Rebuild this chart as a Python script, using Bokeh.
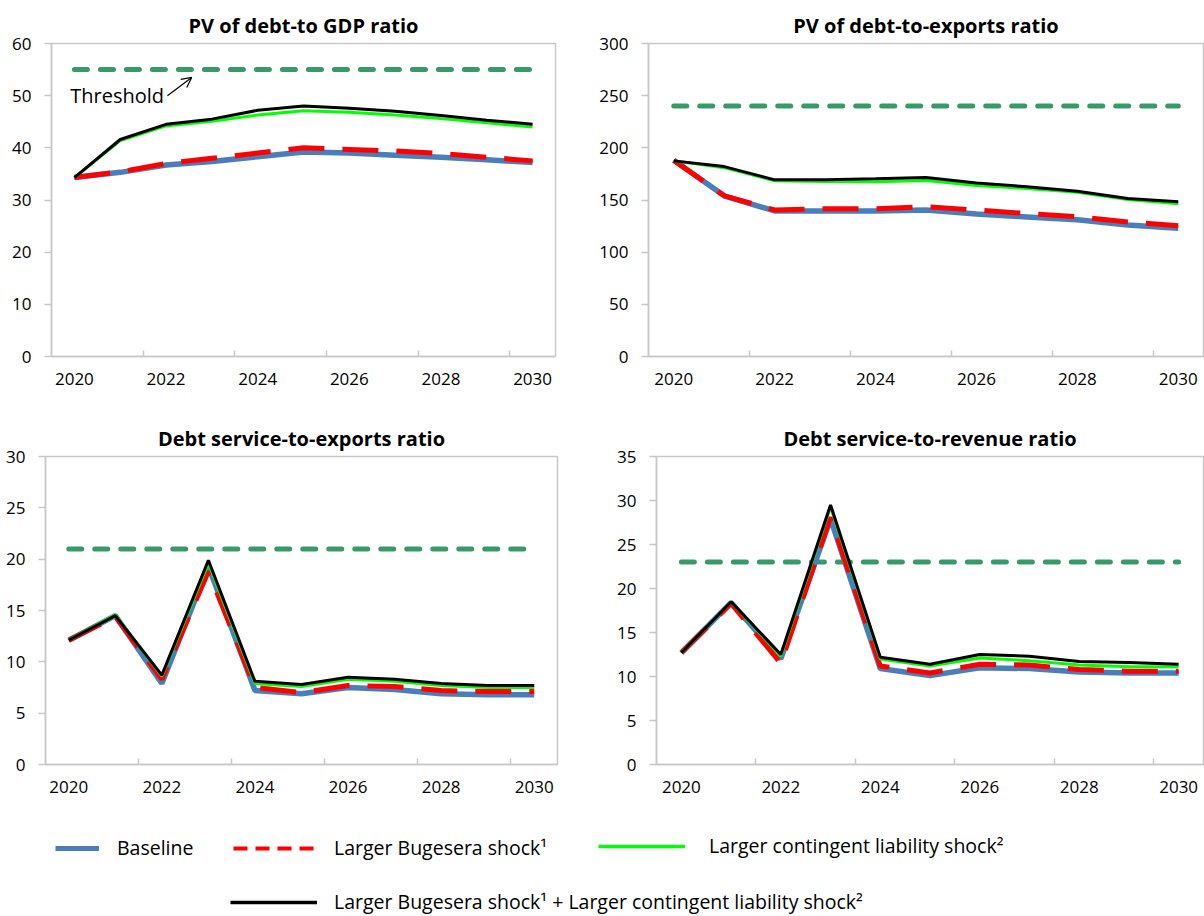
from bokeh.plotting import figure
from bokeh.models import Range1d, FixedTicker, Arrow, OpenHead, Label, Legend, LegendItem
from bokeh.layouts import column, row
from bokeh.embed import file_html
from bokeh.resources import INLINE

# ---------------- data ----------------
years = [2020, 2021, 2022, 2023, 2024, 2025, 2026, 2027, 2028, 2029, 2030]
label_years = [2020, 2022, 2024, 2026, 2028, 2030]

gdp_baseline = [34.3, 35.3, 36.7, 37.4, 38.3, 39.2, 39.0, 38.6, 38.2, 37.7, 37.2]
gdp_bugesera = [34.3, 35.4, 37.0, 38.0, 39.0, 40.0, 39.7, 39.4, 38.9, 38.2, 37.5]
gdp_contingent = [34.3, 41.4, 44.2, 45.1, 46.3, 47.1, 46.8, 46.3, 45.6, 44.8, 44.0]
gdp_combined = [34.3, 41.6, 44.5, 45.5, 47.2, 48.0, 47.6, 47.0, 46.2, 45.3, 44.5]
gdp_threshold = 55

exp_baseline = [188, 154, 139.5, 139.5, 139.5, 140.4, 136.5, 133.8, 131.0, 126.0, 123.0]
exp_bugesera = [188, 154, 140.4, 141.6, 141.6, 143.5, 140.4, 137.0, 134.0, 129.0, 125.3]
exp_contingent = [187.5, 181.0, 168.4, 167.8, 167.5, 168.7, 164.0, 161.0, 157.4, 150.5, 146.4]
exp_combined = [187.5, 182.0, 169.3, 169.3, 170.3, 171.5, 166.2, 162.7, 158.3, 151.4, 148.3]
exp_threshold = 240

dse_baseline = [12.1, 14.5, 7.9, 19.3, 7.2, 6.9, 7.5, 7.3, 6.9, 6.8, 6.8]
dse_bugesera = [12.1, 14.4, 8.3, 18.8, 7.5, 7.0, 7.7, 7.6, 7.2, 7.1, 7.1]
dse_contingent = [12.1, 14.6, 8.6, 19.6, 7.9, 7.6, 8.3, 8.1, 7.7, 7.5, 7.5]
dse_combined = [12.1, 14.5, 8.7, 19.9, 8.1, 7.8, 8.5, 8.3, 7.9, 7.7, 7.7]
dse_threshold = 21

dsr_baseline = [12.7, 18.4, 12.0, 27.9, 10.9, 10.1, 11.0, 10.9, 10.5, 10.4, 10.4]
dsr_bugesera = [12.7, 18.3, 11.5, 28.1, 11.2, 10.4, 11.4, 11.3, 10.8, 10.6, 10.6]
dsr_contingent = [12.7, 18.5, 12.3, 29.3, 12.0, 11.2, 12.1, 11.8, 11.3, 11.1, 11.1]
dsr_combined = [12.7, 18.5, 12.5, 29.5, 12.2, 11.4, 12.5, 12.3, 11.7, 11.6, 11.4]
dsr_threshold = 23

series_names = ["Baseline", "Larger Bugesera shock\u00b9", "Larger contingent liability shock\u00b2",
                "Larger Bugesera shock\u00b9 + Larger contingent liability shock\u00b2"]

# ---------------- styles ----------------
FONT = "Open Sans"
GRAY = "#c8c8c8"
BLUE = "#4a7ebb"
RED = "#ff0000"
GREEN = "#00ff00"
THR = "#38996b"


def panel(title, ymax, ystep, base, bug, cont, comb, thr, width, height, bl, br, bt, bb):
    p = figure(width=width, height=height, x_range=Range1d(2019.5, 2030.5),
               y_range=Range1d(0, ymax), output_backend="svg", toolbar_location=None,
               min_border_left=bl, min_border_right=br, min_border_top=bt, min_border_bottom=bb,
               title=title)
    p.title.align = "center"
    p.title.text_font = FONT
    p.title.text_font_size = "20px"
    p.title.text_font_style = "bold"
    p.title.text_color = "black"
    p.xgrid.visible = False
    p.ygrid.visible = False
    p.outline_line_color = GRAY
    p.outline_line_width = 1.5

    xa = p.xaxis[0]
    xa.ticker = FixedTicker(ticks=label_years, minor_ticks=[y + 1.5 for y in label_years[:-1]])
    xa.major_tick_line_color = None
    xa.major_tick_out = 0
    xa.major_tick_in = 0
    xa.minor_tick_in = 6
    xa.minor_tick_out = 0
    xa.minor_tick_line_color = GRAY
    xa.minor_tick_line_width = 1.5
    xa.axis_line_color = GRAY
    xa.axis_line_width = 1.5
    xa.major_label_text_font = FONT
    xa.major_label_text_font_size = "17px"
    xa.major_label_text_color = "black"
    xa.major_label_standoff = 16

    ya = p.yaxis[0]
    ya.ticker = FixedTicker(ticks=list(range(0, ymax + 1, ystep)))
    ya.major_tick_out = 7
    ya.major_tick_in = 0
    ya.major_tick_line_color = GRAY
    ya.major_tick_line_width = 1.5
    ya.minor_tick_line_color = None
    ya.axis_line_color = GRAY
    ya.axis_line_width = 1.5
    ya.major_label_text_font = FONT
    ya.major_label_text_font_size = "17px"
    ya.major_label_text_color = "black"
    ya.major_label_standoff = 13

    p.line(years, [thr] * len(years), line_color=THR, line_width=5, line_dash="13 13", line_cap="round")
    p.line(years, base, line_color=BLUE, line_width=5.5)
    p.line(years, bug, line_color=RED, line_width=5, line_dash="36 18")
    p.line(years, cont, line_color=GREEN, line_width=3)
    p.line(years, comb, line_color="black", line_width=3)
    return p


tl = panel("PV of debt-to GDP ratio", 60, 10, gdp_baseline, gdp_bugesera, gdp_contingent,
           gdp_combined, gdp_threshold, 590, 410, 51, 35, 43, 54)
tr = panel("PV of debt-to-exports ratio", 300, 50, exp_baseline, exp_bugesera, exp_contingent,
           exp_combined, exp_threshold, 614, 410, 58, 1, 42, 51)
bl = panel("Debt service-to-exports ratio", 30, 5, dse_baseline, dse_bugesera, dse_contingent,
           dse_combined, dse_threshold, 590, 400, 45, 33, 46, 43)
br = panel("Debt service-to-revenue ratio", 35, 5, dsr_baseline, dsr_bugesera, dsr_contingent,
           dsr_combined, dsr_threshold, 614, 400, 66, 1, 44, 46)

# Threshold annotation on the first panel
tl.add_layout(Label(x=2019.91, y=50.0, text="Threshold", text_baseline="middle",
                    text_font=FONT, text_font_size="20px", text_color="black"))
tl.add_layout(Arrow(end=OpenHead(size=10, line_width=1.2, line_color="black"),
                    x_start=2022.03, y_start=50.0, x_end=2022.56, y_end=53.5,
                    line_width=1.2, line_color="black"))

# ---------------- legend ----------------
lg = figure(width=1204, height=106, x_range=Range1d(0, 1), y_range=Range1d(0, 1),
            x_axis_type=None, y_axis_type=None, output_backend="svg", toolbar_location=None,
            min_border=0, outline_line_color=None)
lg.xgrid.visible = False
lg.ygrid.visible = False
# swatch-only renderers, placed outside the visible range
r_base = lg.line(x=[-5, -4], y=[-5, -5], line_color=BLUE, line_width=5)
r_bug = lg.line(x=[-5, -4], y=[-5, -5], line_color=RED, line_width=4, line_dash="14 8")
r_cont = lg.line(x=[-5, -4], y=[-5, -5], line_color=GREEN, line_width=3.5)
r_comb = lg.line(x=[-5, -4], y=[-5, -5], line_color="black", line_width=3.5)


def add_leg(renderer, label, x, y, gw, standoff, h=24):
    leg = Legend(items=[LegendItem(label=label, renderers=[renderer])], location=(x, y),
                 glyph_width=gw, glyph_height=h, label_height=h, label_standoff=standoff,
                 padding=0, margin=0, border_line_color=None, background_fill_alpha=0,
                 label_text_font=FONT, label_text_font_size="19.5px", label_text_color="black")
    lg.add_layout(leg)


add_leg(r_base, series_names[0], 55, 55, 44, 18)
add_leg(r_bug, series_names[1], 233, 55, 81, 20)
add_leg(r_cont, series_names[2], 598, 57, 87, 24)
add_leg(r_comb, series_names[3], 230, 1, 87, 17, h=18)

page = column(row(tl, tr), row(bl, br), lg)
open("out.html", "w").write(file_html(page, INLINE))
